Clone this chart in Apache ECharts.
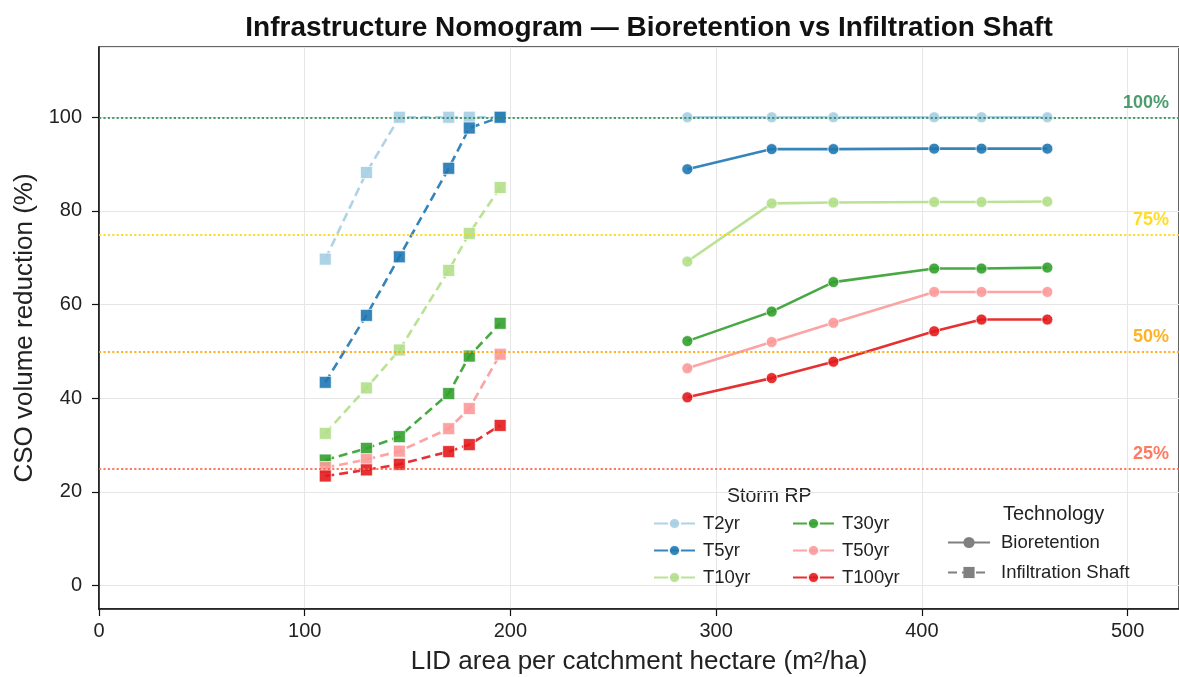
<!DOCTYPE html>
<html>
<head>
<meta charset="utf-8">
<title>Infrastructure Nomogram</title>
<script src="https://cdn.jsdelivr.net/npm/echarts@6/dist/echarts.min.js"></script>
<style>
  html, body { margin: 0; padding: 0; background: #fff; }
  #chart { width: 1179px; height: 677px; }
</style>
</head>
<body>
<div id="chart"></div>
<script>
// storm return periods (legend names) and their colours
const stormNames = ['T2yr', 'T5yr', 'T10yr', 'T30yr', 'T50yr', 'T100yr']
const stormColors = ['#a6cee3', '#1f78b4', '#b2df8a', '#33a02c', '#fb9a99', '#e31a1c']

// Bioretention (circles, solid)
const bioArea = [286, 327, 357, 406, 429, 461]
const bioT2 = [100, 100, 100, 100, 100, 100]
const bioT5 = [88.9, 93.2, 93.2, 93.3, 93.3, 93.3]
const bioT10 = [69.2, 81.6, 81.8, 81.9, 81.9, 82.0]
const bioT30 = [52.2, 58.5, 64.8, 67.7, 67.7, 67.9]
const bioT50 = [46.4, 52.0, 56.1, 62.7, 62.7, 62.7]
const bioT100 = [40.2, 44.3, 47.8, 54.3, 56.8, 56.8]

// Infiltration shaft (squares, dashed)
const shaftArea = [110, 130, 146, 170, 180, 195]
const shaftT2 = [69.7, 88.2, 100, 100, 100, 100]
const shaftT5 = [43.4, 57.7, 70.2, 89.1, 97.7, 100]
const shaftT10 = [32.5, 42.2, 50.3, 67.3, 75.2, 85.0]
const shaftT30 = [26.8, 29.3, 31.8, 41.0, 49.0, 56.0]
const shaftT50 = [25.2, 26.9, 28.7, 33.5, 37.8, 49.4]
const shaftT100 = [23.4, 24.7, 25.9, 28.6, 30.1, 34.2]

// reference levels
const refLevels = [100, 75, 50, 25]
const refColors = ['#2e8b57', '#ffd700', '#ffa500', '#ff6347']

const bioData = [bioT2, bioT5, bioT10, bioT30, bioT50, bioT100]
const shaftData = [shaftT2, shaftT5, shaftT10, shaftT30, shaftT50, shaftT100]

const font = 'Liberation Sans, Arial, sans-serif'

function pairs(xs, ys) {
    return xs.map((x, i) => [x, ys[i]])
}

const mChart = echarts.init(document.getElementById('chart'))

const seriesArr = []
stormNames.forEach((name, i) => {
    seriesArr.push({
        name: name,
        type: 'line',
        data: pairs(bioArea, bioData[i]),
        symbol: 'circle',
        symbolSize: 11,
        lineStyle: { width: 2.6, color: stormColors[i], opacity: 0.9 },
        itemStyle: { color: stormColors[i], borderColor: '#fff', borderWidth: 0.8, opacity: 0.9 },
        emphasis: { disabled: true },
        z: 3
    })
})
stormNames.forEach((name, i) => {
    seriesArr.push({
        name: name,
        type: 'line',
        data: pairs(shaftArea, shaftData[i]),
        symbol: 'rect',
        symbolSize: 12,
        lineStyle: { width: 2.6, type: [9, 5], color: stormColors[i], opacity: 0.9 },
        itemStyle: { color: stormColors[i], borderColor: '#fff', borderWidth: 0.8, opacity: 0.9 },
        emphasis: { disabled: true },
        z: 3
    })
})
// technology legend keys (grey, no data)
seriesArr.push({
    name: 'Bioretention', type: 'line', data: [], symbol: 'circle', symbolSize: 11,
    lineStyle: { width: 2.6, color: '#808080' }, itemStyle: { color: '#808080' }
})
seriesArr.push({
    name: 'Infiltration Shaft', type: 'line', data: [], symbol: 'rect', symbolSize: 11,
    lineStyle: { width: 2.6, type: [9, 5], color: '#808080' }, itemStyle: { color: '#808080' }
})
// reference lines
seriesArr.push({
    name: 'ref', type: 'line', data: [],
    markLine: {
        silent: true,
        symbol: 'none',
        data: refLevels.map((v, i) => ({
            yAxis: v,
            lineStyle: { color: refColors[i], type: 'dotted', width: 2.2, opacity: 0.85 },
            label: {
                show: true,
                position: 'insideEndTop',
                formatter: v + '%',
                color: refColors[i],
                fontWeight: 'bold',
                fontSize: 18,
                fontFamily: font,
                distance: [10, 5]
            }
        }))
    },
    z: 1
})

const legendText = { fontSize: 18.5, color: '#222', fontFamily: font, padding: [0, 0, 0, 3] }

const option = {
    animation: false,
    backgroundColor: '#fff',
    title: {
        text: 'Infrastructure Nomogram — Bioretention vs Infiltration Shaft',
        left: 644,
        top: 9,
        textAlign: 'center',
        textStyle: { fontSize: 28, fontWeight: 'bold', color: '#111', fontFamily: font }
    },
    grid: {
        left: 99, right: 0, top: 47, bottom: 68,
        containLabel: false, outerBoundsMode: 'none',
        show: true, borderColor: '#333', borderWidth: 1.5
    },
    xAxis: {
        type: 'value',
        min: 0, max: 525, interval: 100,
        name: 'LID area per catchment hectare (m²/ha)',
        nameLocation: 'middle',
        nameGap: 40,
        nameTextStyle: { fontSize: 26, color: '#222', fontFamily: font },
        axisLine: { show: true, onZero: false, lineStyle: { color: '#111', width: 1.5 } },
        axisTick: { show: true, length: 7, lineStyle: { color: '#111', width: 1.2 } },
        axisLabel: { fontSize: 20, color: '#222', margin: 12, fontFamily: font, showMaxLabel: false },
        splitLine: { show: true, lineStyle: { color: '#e6e6e6', width: 1 } }
    },
    yAxis: {
        type: 'value',
        min: -5, max: 115,
        minInterval: 20, maxInterval: 20,
        name: 'CSO volume reduction (%)',
        nameLocation: 'middle',
        nameGap: 61,
        nameTextStyle: { fontSize: 26, color: '#222', fontFamily: font },
        axisLine: { show: true, onZero: false, lineStyle: { color: '#111', width: 1.5 } },
        axisTick: { show: true, length: 7, lineStyle: { color: '#111', width: 1.2 } },
        axisLabel: {
            fontSize: 20, color: '#222', margin: 17, fontFamily: font,
            showMinLabel: false, showMaxLabel: false,
            formatter: v => (v >= 0 && v <= 100 && v % 20 === 0) ? v : ''
        },
        splitLine: { show: true, lineStyle: { color: '#e6e6e6', width: 1 } }
    },
    legend: [
        {
            data: stormNames.slice(0, 3),
            orient: 'vertical', left: 648, top: 509,
            itemWidth: 41, itemHeight: 14, itemGap: 8,
            textStyle: legendText, selectedMode: false
        },
        {
            data: stormNames.slice(3),
            orient: 'vertical', left: 787, top: 509,
            itemWidth: 41, itemHeight: 14, itemGap: 8,
            textStyle: legendText, selectedMode: false
        },
        {
            data: ['Bioretention', 'Infiltration Shaft'],
            orient: 'vertical', left: 942, top: 528,
            itemWidth: 42, itemHeight: 14, itemGap: 11,
            textStyle: { ...legendText, padding: [0, 0, 0, 6] }, selectedMode: false
        }
    ],
    graphic: [
        { type: 'text', left: 727, top: 487, style: { text: 'Storm RP', fontSize: 19.5, fill: '#222', fontFamily: font } },
        { type: 'text', left: 1003, top: 504, style: { text: 'Technology', fontSize: 20, fill: '#222', fontFamily: font } }
    ],
    series: seriesArr
}
mChart.setOption(option)
</script>
</body>
</html>
